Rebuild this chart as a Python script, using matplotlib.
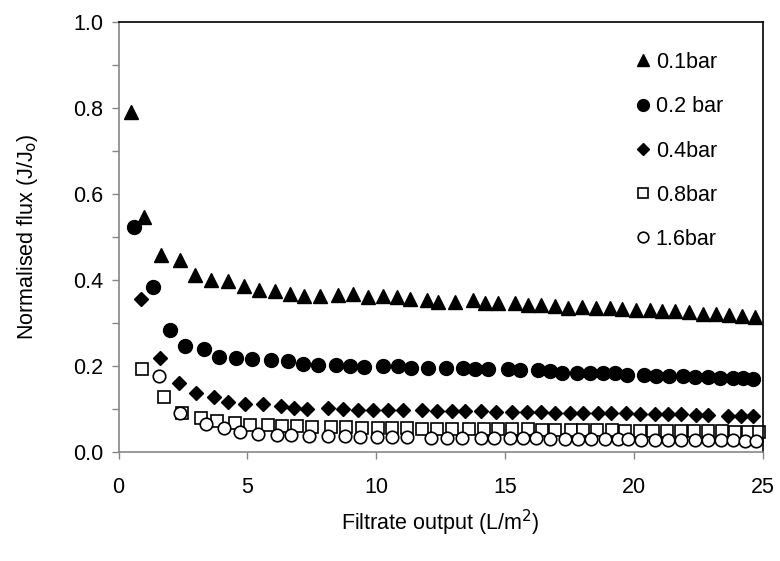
import matplotlib
matplotlib.use("Agg")
import matplotlib.pyplot as plt
from matplotlib.ticker import MultipleLocator

plt.rcParams['font.family'] = ['Liberation Sans', 'DejaVu Sans']

# Filtrate output (L/m2) and normalised flux (J/Jo) for each pressure
x_01 = [0.48, 0.99, 1.64, 2.40, 2.95, 3.58, 4.24, 4.86, 5.45, 6.06,
        6.64, 7.20, 7.83, 8.53, 9.11, 9.69, 10.27, 10.81, 11.30, 11.98,
        12.40, 13.05, 13.76, 14.21, 14.73, 15.37, 15.89, 16.41, 16.92, 17.44,
        18.00, 18.54, 19.06, 19.55, 20.06, 20.61, 21.10, 21.61, 22.13, 22.67,
        23.17, 23.68, 24.20, 24.68]
y_01 = [0.790, 0.547, 0.459, 0.446, 0.411, 0.401, 0.397, 0.386, 0.378, 0.374,
        0.368, 0.364, 0.363, 0.366, 0.368, 0.361, 0.364, 0.361, 0.356, 0.354,
        0.350, 0.350, 0.354, 0.347, 0.347, 0.346, 0.343, 0.342, 0.339, 0.336,
        0.337, 0.336, 0.334, 0.332, 0.330, 0.330, 0.328, 0.327, 0.325, 0.322,
        0.321, 0.319, 0.316, 0.314]

x_02 = [0.61, 1.33, 1.98, 2.58, 3.32, 3.88, 4.55, 5.19, 5.90, 6.59,
        7.14, 7.75, 8.44, 8.98, 9.52, 10.27, 10.85, 11.33, 12.02, 12.70,
        13.35, 13.82, 14.34, 15.12, 15.57, 16.28, 16.73, 17.22, 17.77, 18.28,
        18.80, 19.26, 19.73, 20.37, 20.87, 21.36, 21.90, 22.35, 22.87, 23.32,
        23.84, 24.22, 24.61]
y_02 = [0.524, 0.383, 0.285, 0.247, 0.240, 0.222, 0.219, 0.216, 0.214, 0.211,
        0.206, 0.203, 0.203, 0.200, 0.198, 0.200, 0.200, 0.195, 0.195, 0.195,
        0.195, 0.193, 0.193, 0.193, 0.190, 0.190, 0.188, 0.185, 0.185, 0.184,
        0.184, 0.183, 0.180, 0.180, 0.178, 0.177, 0.177, 0.175, 0.175, 0.173,
        0.172, 0.172, 0.170]

x_04 = [0.87, 1.59, 2.36, 3.00, 3.72, 4.24, 4.91, 5.62, 6.29, 6.81,
        7.30, 8.14, 8.72, 9.30, 9.88, 10.47, 11.05, 11.76, 12.34, 12.92,
        13.44, 14.08, 14.66, 15.25, 15.83, 16.41, 16.92, 17.51, 18.02, 18.60,
        19.12, 19.70, 20.22, 20.80, 21.32, 21.83, 22.42, 22.87, 23.64, 24.16,
        24.61]
y_04 = [0.356, 0.219, 0.161, 0.137, 0.128, 0.117, 0.113, 0.112, 0.108, 0.103,
        0.101, 0.103, 0.101, 0.099, 0.098, 0.098, 0.097, 0.097, 0.096, 0.096,
        0.095, 0.095, 0.094, 0.094, 0.093, 0.093, 0.092, 0.092, 0.091, 0.091,
        0.090, 0.090, 0.089, 0.089, 0.088, 0.088, 0.087, 0.086, 0.085, 0.084,
        0.083]

x_08 = [0.90, 1.78, 2.48, 3.20, 3.81, 4.50, 5.10, 5.78, 6.33, 6.91,
        7.52, 8.24, 8.81, 9.43, 10.05, 10.62, 11.21, 11.78, 12.37, 12.94,
        13.59, 14.18, 14.72, 15.25, 15.89, 16.43, 16.95, 17.55, 18.02, 18.58,
        19.15, 19.66, 20.22, 20.74, 21.29, 21.81, 22.33, 22.87, 23.41, 23.93,
        24.42, 24.87]
y_08 = [0.193, 0.129, 0.091, 0.079, 0.073, 0.068, 0.064, 0.062, 0.061, 0.060,
        0.059, 0.058, 0.058, 0.057, 0.057, 0.056, 0.056, 0.055, 0.055, 0.055,
        0.054, 0.054, 0.053, 0.053, 0.053, 0.052, 0.052, 0.052, 0.051, 0.051,
        0.051, 0.050, 0.050, 0.050, 0.050, 0.049, 0.049, 0.049, 0.049, 0.048,
        0.048, 0.048]

x_16 = [1.55, 2.39, 3.40, 4.11, 4.72, 5.43, 6.16, 6.69, 7.39, 8.14,
        8.78, 9.36, 10.01, 10.62, 11.21, 12.14, 12.76, 13.33, 14.05, 14.55,
        15.18, 15.70, 16.21, 16.73, 17.31, 17.83, 18.35, 18.86, 19.38, 19.77,
        20.28, 20.80, 21.32, 21.83, 22.35, 22.87, 23.39, 23.84, 24.29, 24.74]
y_16 = [0.178, 0.092, 0.066, 0.056, 0.046, 0.042, 0.041, 0.039, 0.038, 0.037,
        0.037, 0.036, 0.036, 0.035, 0.035, 0.034, 0.034, 0.033, 0.033, 0.033,
        0.032, 0.032, 0.032, 0.031, 0.031, 0.031, 0.030, 0.030, 0.030, 0.030,
        0.029, 0.029, 0.029, 0.029, 0.028, 0.028, 0.028, 0.028, 0.027, 0.027]

labels = ["0.1bar", "0.2 bar", "0.4bar", "0.8bar", "1.6bar"]

FS = 15.5

fig = plt.figure(figsize=(7.8, 5.61), dpi=100)
ax = fig.add_axes([0.152, 0.194, 0.826, 0.767])

series = [
    (x_01, y_01, dict(marker='^', ms=10, mfc='black', mec='black')),
    (x_02, y_02, dict(marker='o', ms=10, mfc='black', mec='black')),
    (x_04, y_04, dict(marker='D', ms=7, mfc='black', mec='black')),
    (x_08, y_08, dict(marker='s', ms=8.5, mfc='white', mec='black', mew=1.2)),
    (x_16, y_16, dict(marker='o', ms=9.0, mfc='white', mec='black', mew=1.2)),
]
handles = []
for (xs, ys, style), lab in zip(series, labels):
    h, = ax.plot(xs, ys, linestyle='none', label=lab, clip_on=False, **style)
    handles.append(h)

ax.set_xlim(0, 25)
ax.set_ylim(0, 1.0)
ax.xaxis.set_major_locator(MultipleLocator(5))
ax.yaxis.set_major_locator(MultipleLocator(0.2))
ax.yaxis.set_minor_locator(MultipleLocator(0.1))
ax.yaxis.set_major_formatter(plt.FormatStrFormatter('%.1f'))

grey = '#868686'
for side in ('left', 'bottom'):
    ax.spines[side].set_color(grey)
    ax.spines[side].set_linewidth(1.2)
for side in ('top', 'right'):
    ax.spines[side].set_color('black')
    ax.spines[side].set_linewidth(1.2)

ax.tick_params(axis='both', which='both', direction='out', color=grey,
               width=1.0, labelsize=FS, labelcolor='black')
ax.tick_params(axis='both', which='major', length=5)
ax.tick_params(axis='y', which='minor', length=5)
ax.tick_params(axis='x', which='major', pad=13)
ax.tick_params(axis='y', which='major', pad=6)

ax.set_xlabel("Filtrate output (L/m$^{2}$)", fontsize=FS, labelpad=7)
ax.set_ylabel("Normalised flux (J/J$_{\\mathrm{o}}$)", fontsize=FS, labelpad=24)

leg = ax.legend(handles=handles, loc='upper left', frameon=False,
                fontsize=FS, markerscale=0.85, handlelength=0.6,
                handletextpad=0.3, labelspacing=1.08, borderpad=0.0,
                bbox_to_anchor=(0.787, 0.955))

fig.savefig("out.png", dpi=100)
